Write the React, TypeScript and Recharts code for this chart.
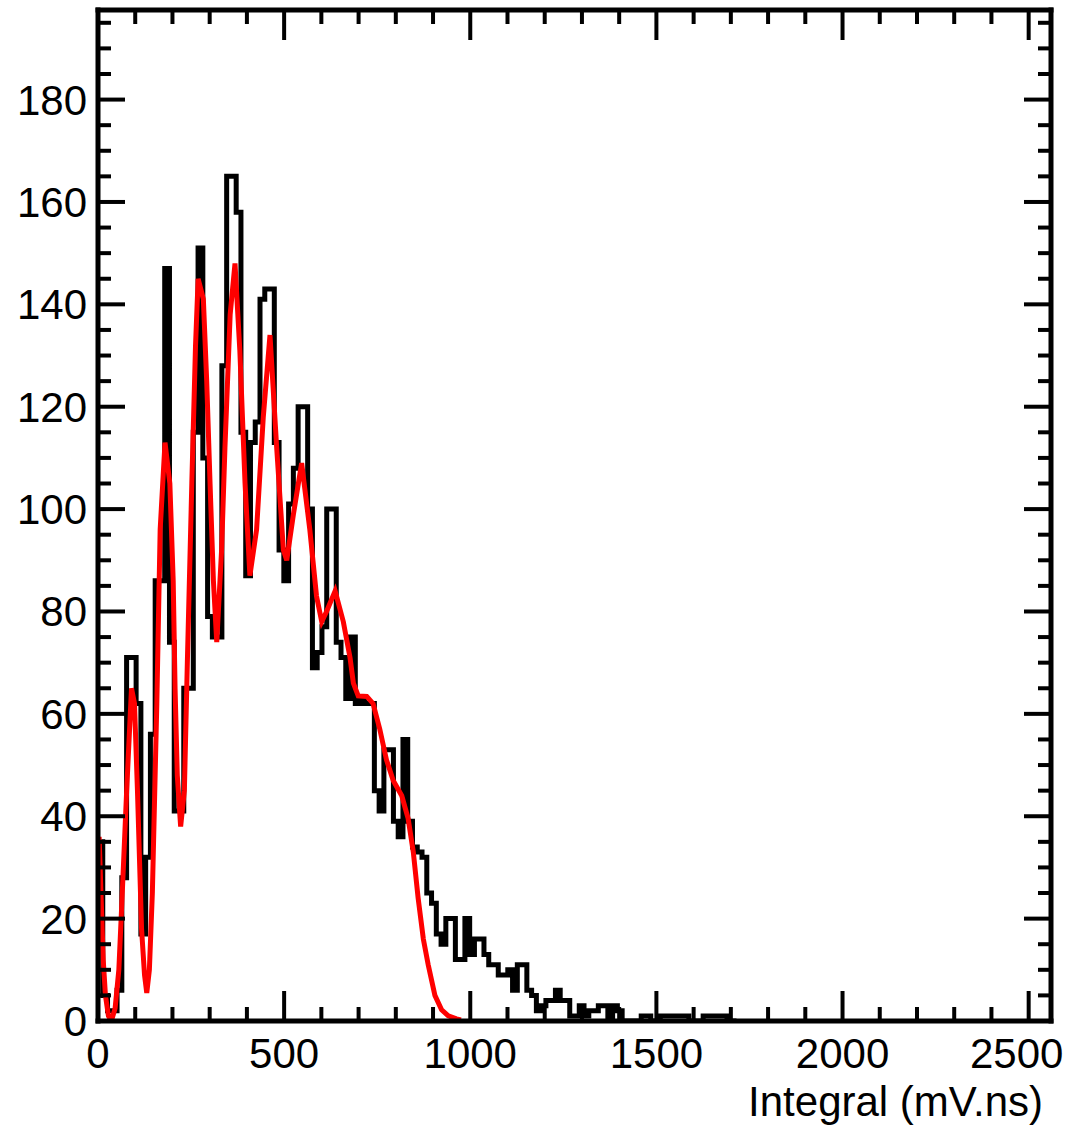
import React from "react";
import { ComposedChart, Line, XAxis, YAxis } from "recharts";

// histogram: 12.8 mV.ns bins starting at 0
const binWidth = 12.8;
const counts = [
  35, 5, 2, 2, 6, 28, 71, 71, 62, 17,
  32, 56, 86, 86, 147, 74, 41, 41, 65, 65,
  115, 151, 110, 79, 75, 75, 128, 165, 165, 158,
  115, 87, 113, 117, 141, 143, 143, 113, 92, 86,
  101, 108, 120, 120, 100, 69, 72, 77, 100, 100,
  74, 71, 63, 75, 62, 63, 62, 62, 45, 41,
  53, 53, 39, 36, 55, 39, 34, 33, 32, 25,
  23, 17, 15, 20, 20, 12, 12, 20, 13, 16,
  16, 13, 11, 11, 9, 9, 10, 6, 11, 11,
  6, 5, 2, 3, 4, 4, 6, 4, 4, 1,
  1, 3, 1, 2, 2, 3, 3, 0, 3, 2,
  0, 0, 0, 0, 1, 1, 0, 0, 1, 1,
  1, 1, 1, 1, 0, 0, 0, 1, 1, 1,
  1, 1, 0, 0,
];

// fitted curve (red)
const fitX = [
  3, 8, 14, 20, 28, 36, 46, 56, 64, 77, 90, 98, 106, 117, 125, 131, 138, 146, 158, 167,
  180, 193, 202, 207, 213, 222, 232, 240, 252, 262, 269, 276, 283, 292, 301, 310, 319, 332, 341, 355,
  368, 381, 395, 408, 426, 444, 462, 480, 498, 507, 525, 547, 569, 587, 601, 614, 637, 659, 677, 686,
  699, 722, 739, 757, 775, 793, 816, 833, 847, 860, 874, 887, 905, 923, 941, 963, 975,
];
const fitY = [
  36, 25, 12, 5, 1, 0, 2.5, 10, 23, 45, 65, 62, 45, 18, 9, 5.5, 10, 25, 62, 96,
  113, 105, 86, 65, 48, 38, 45, 70, 105, 132, 145, 143, 141, 125, 105, 86, 74, 92, 112, 138,
  148, 131, 105, 87, 96, 118, 134, 112, 92, 90, 99, 109, 96, 83, 78, 80, 84, 78, 71, 66,
  63.5, 63.4, 62, 57, 51, 47, 44, 39.6, 33, 24, 16, 11, 5, 2.2, 1, 0.4, 0.2,
];

const xTicks = [
  0, 100, 200, 300, 400, 500, 600, 700, 800, 900, 1000, 1100, 1200, 1300,
  1400, 1500, 1600, 1700, 1800, 1900, 2000, 2100, 2200, 2300, 2400, 2500,
];
const yTicks = [
  0, 5, 10, 15, 20, 25, 30, 35, 40, 45, 50, 55, 60, 65, 70, 75, 80, 85, 90, 95,
  100, 105, 110, 115, 120, 125, 130, 135, 140, 145, 150, 155, 160, 165, 170, 175,
  180, 185, 190, 195,
];

const histData = counts
  .map((c, i) => ({ x: i * binWidth, h: c }))
  .concat([{ x: counts.length * binWidth, h: counts[counts.length - 1] }]);
const fitData = fitX.map((x, i) => ({ x, y: fitY[i] }));

const FONT = "'Liberation Sans', Arial, Helvetica, sans-serif";
const FS = 42;
const TICK_W = 4;

const BottomTick = ({ x, y, payload }: any) => {
  const v = payload.value;
  const major = v % 500 === 0;
  // keep the last label inside the canvas, as ROOT does
  const lx = v === 2500 ? x - 12 : x;
  return (
    <g>
      <line x1={x} x2={x} y1={y} y2={y - (major ? 30 : 14)} stroke="#000" strokeWidth={TICK_W} />
      {major && (
        <text x={lx} y={y + 47} textAnchor="middle" fontSize={FS} fontFamily={FONT} fill="#000">
          {v}
        </text>
      )}
    </g>
  );
};

const TopTick = ({ x, y, payload }: any) => {
  const major = payload.value % 500 === 0;
  return <line x1={x} x2={x} y1={y} y2={y + (major ? 30 : 14)} stroke="#000" strokeWidth={TICK_W} />;
};

const LeftTick = ({ x, y, payload }: any) => {
  const v = payload.value;
  const major = v % 20 === 0;
  return (
    <g>
      <line x1={x} x2={x + (major ? 27 : 13)} y1={y} y2={y} stroke="#000" strokeWidth={TICK_W} />
      {major && (
        <text x={x - 11} y={y + 15} textAnchor="end" fontSize={FS} fontFamily={FONT} fill="#000">
          {v}
        </text>
      )}
    </g>
  );
};

const RightTick = ({ x, y, payload }: any) => {
  const major = payload.value % 20 === 0;
  return <line x1={x} x2={x - (major ? 27 : 13)} y1={y} y2={y} stroke="#000" strokeWidth={TICK_W} />;
};

const AxisTitle = ({ viewBox }: any) => (
  <text
    x={viewBox.x + viewBox.width - 8}
    y={viewBox.y + 95}
    textAnchor="end"
    fontSize={FS}
    fontFamily={FONT}
    fill="#000"
  >
    Integral (mV.ns)
  </text>
);

const frame = { stroke: "#000", strokeWidth: 5, strokeLinecap: "square" as const };

export default function App() {
  return (
    <div style={{ position: "absolute", left: 0, top: 0, width: 1088, height: 1127, background: "#fff" }}>
      <ComposedChart width={1088} height={1127} margin={{ top: 0, right: 0, bottom: 0, left: 0 }}>
        <XAxis
          xAxisId="b"
          dataKey="x"
          type="number"
          domain={[0, 2560]}
          allowDataOverflow
          ticks={xTicks}
          interval={0}
          height={106}
          tickSize={0}
          tickMargin={0}
          tickLine={false}
          axisLine={frame}
          tick={<BottomTick />}
          label={<AxisTitle />}
        />
        <XAxis
          xAxisId="t"
          orientation="top"
          dataKey="x"
          type="number"
          domain={[0, 2560]}
          allowDataOverflow
          ticks={xTicks}
          interval={0}
          height={10}
          tickSize={0}
          tickMargin={0}
          tickLine={false}
          axisLine={frame}
          tick={<TopTick />}
        />
        <YAxis
          yAxisId="l"
          type="number"
          domain={[0, 197.5]}
          allowDataOverflow
          ticks={yTicks}
          interval={0}
          width={98}
          tickSize={0}
          tickMargin={0}
          tickLine={false}
          axisLine={frame}
          tick={<LeftTick />}
        />
        <YAxis
          yAxisId="r"
          orientation="right"
          type="number"
          domain={[0, 197.5]}
          allowDataOverflow
          ticks={yTicks}
          interval={0}
          width={37}
          tickSize={0}
          tickMargin={0}
          tickLine={false}
          axisLine={frame}
          tick={<RightTick />}
        />
        <Line
          xAxisId="b"
          yAxisId="l"
          data={histData}
          dataKey="h"
          type="stepAfter"
          stroke="#000"
          strokeWidth={5}
          strokeLinejoin="miter"
          dot={false}
          activeDot={false}
          isAnimationActive={false}
        />
        <Line
          xAxisId="b"
          yAxisId="l"
          data={fitData}
          dataKey="y"
          type="linear"
          stroke="#ff0000"
          strokeWidth={5}
          dot={false}
          activeDot={false}
          isAnimationActive={false}
        />
      </ComposedChart>
    </div>
  );
}
